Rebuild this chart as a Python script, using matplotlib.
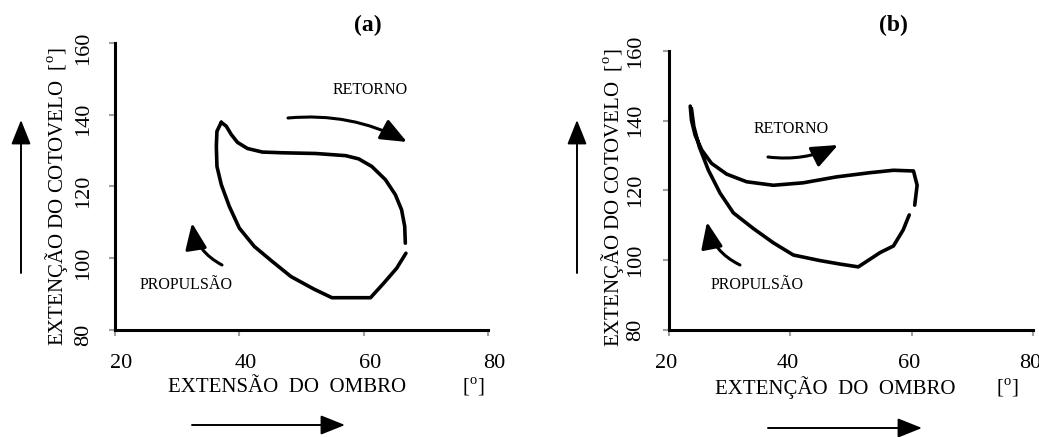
import numpy as np
import matplotlib
matplotlib.use('Agg')
import matplotlib.pyplot as plt
from matplotlib.transforms import ScaledTranslation

plt.rcParams['font.family'] = ['Liberation Serif', 'DejaVu Serif']
plt.rcParams['mathtext.fontset'] = 'custom'
plt.rcParams['mathtext.rm'] = 'Liberation Serif'

nan = np.nan

# (a) ciclo ombro x cotovelo - extensão do ombro [º] e extenção do cotovelo [º]
ombro_a = [37.1, 37.9, 38.7, 39.7, 41.3, 43.7, 46.9, 52.3, 57.1, 59.2, 61.3, 63.5,
           65.1, 66.1, 66.6, 66.7, nan, 66.8, 65.3, 63.2, 61.1, 54.9, 52.0, 48.3,
           45.3, 42.4, 40.0, 38.4, 37.1, 36.4, 36.3, 36.4, 37.1]
cotovelo_a = [137.9, 136.8, 134.5, 132.3, 130.6, 129.6, 129.4, 129.2, 128.6, 127.7,
              125.6, 121.9, 117.7, 113.5, 108.9, 104.2, nan, 101.4, 97.2, 93.0, 89.0,
              89.0, 91.4, 94.9, 99.1, 103.3, 108.4, 114.4, 120.5, 125.6, 131.2, 135.4,
              137.9]

# (b)
ombro_b = [23.5, 23.7, 24.3, 25.4, 27.0, 29.5, 32.8, 37.2, 42.1, 47.6, 53.1, 57.0,
           60.3, 60.9, 60.5, nan, 59.6, 58.6, 57.0, 54.8, 51.2, 48.2, 44.9, 40.5,
           37.2, 33.9, 30.6, 28.4, 26.5, 25.0, 24.1, 23.7]
cotovelo_b = [144.2, 140.2, 135.9, 131.6, 127.8, 124.7, 122.5, 121.5, 122.2, 123.9,
              125.1, 125.8, 125.6, 121.5, 115.8, nan, 113.0, 108.7, 104.1, 102.2, 98.1,
              98.9, 99.9, 101.5, 105.0, 109.1, 113.6, 119.3, 125.8, 132.5, 138.3, 143.5]

x_ticks = [20, 40, 60, 80]
y_ticks = [80, 100, 120, 140, 160]
grau = r'[$^{\mathrm{o}}$]'

W, H = 1039, 437
fig = plt.figure(figsize=(W / 100, H / 100), dpi=100)


def fpos(x, y):
    # pixel da imagem -> fração da figura
    return (x / W, 1 - y / H)


def style_axes(ax, xpad, ypad, dx, dy):
    ax.set_xlim(20, 80)
    ax.set_ylim(80, 160)
    ax.set_xticks(x_ticks)
    ax.set_yticks(y_ticks)
    ax.patch.set_alpha(0)
    for s in ['top', 'right']:
        ax.spines[s].set_visible(False)
    for s in ['left', 'bottom']:
        ax.spines[s].set_linewidth(2.2)
    ax.tick_params(axis='both', direction='out', length=4, width=1.5,
                   color='#a0a0a0', labelsize=16)
    ax.tick_params(axis='x', pad=xpad)
    ax.tick_params(axis='y', pad=ypad, labelrotation=90)
    offx = ScaledTranslation(dx / 100, 0, fig.dpi_scale_trans)
    offy = ScaledTranslation(0, -dy / 100, fig.dpi_scale_trans)
    for lab in ax.get_xticklabels():
        lab.set_transform(lab.get_transform() + offx)
    for lab in ax.get_yticklabels():
        lab.set_va('center')
        lab.set_transform(lab.get_transform() + offy)


def arrow(p0, p1, rad=0.0, lw=1.4, hl=0.75, hw=0.3):
    fig.add_artist(matplotlib.patches.FancyArrowPatch(
        fpos(*p0), fpos(*p1), transform=fig.transFigure,
        arrowstyle='-|>,head_length=%s,head_width=%s' % (hl, hw),
        connectionstyle='arc3,rad=%s' % rad, mutation_scale=20,
        lw=lw, color='black', shrinkA=0, shrinkB=0))


ax_a = fig.add_axes([115 / W, 1 - 330 / H, 373 / W, 287 / H])
ax_b = fig.add_axes([669 / W, 1 - 330 / H, 364 / W, 279 / H])
style_axes(ax_a, 13.5, 11.5, 6, 5)
style_axes(ax_b, 13.5, 13, -3, 0)

ax_a.plot(ombro_a, cotovelo_a, color='black', lw=2.6,
          solid_joinstyle='round', solid_capstyle='round')
ax_b.plot(ombro_b, cotovelo_b, color='black', lw=2.6,
          solid_joinstyle='round', solid_capstyle='round')

# textos (a)
fig.text(*fpos(368, 25), '(a)', ha='center', va='center', fontsize=17, fontweight='bold')
fig.text(*fpos(287, 387), 'EXTENSÃO  DO  OMBRO', ha='center', va='center', fontsize=15)
fig.text(*fpos(473, 387), grau, ha='center', va='center', fontsize=15)
fig.text(*fpos(57, 197), 'EXTENÇÃO DO COTOVELO  ' + grau, ha='center', va='center',
         fontsize=15, rotation=90)
fig.text(*fpos(370, 90), 'RETORNO', ha='center', va='center', fontsize=11.5)
fig.text(*fpos(186, 285), 'PROPULSÃO', ha='center', va='center', fontsize=11.5)

# textos (b)
fig.text(*fpos(893, 25), '(b)', ha='center', va='center', fontsize=17, fontweight='bold')
fig.text(*fpos(835, 388), 'EXTENÇÃO  DO  OMBRO', ha='center', va='center', fontsize=15)
fig.text(*fpos(1007, 388), grau, ha='center', va='center', fontsize=15)
fig.text(*fpos(612, 198), 'EXTENÇÃO DO COTOVELO  ' + grau, ha='center', va='center',
         fontsize=15, rotation=90)
fig.text(*fpos(791, 129), 'RETORNO', ha='center', va='center', fontsize=11.5)
fig.text(*fpos(757, 285), 'PROPULSÃO', ha='center', va='center', fontsize=11.5)

# setas
arrow((192, 425), (345, 425))
arrow((21, 273), (21, 120))
arrow((768, 428), (922, 428))
arrow((577, 273), (577, 120))
arrow((288, 118), (407, 142), rad=-0.15, lw=2.2, hl=0.8, hw=0.33)
arrow((222, 265), (192, 223), rad=-0.25, lw=2.2, hl=0.8, hw=0.33)
arrow((768, 157), (838, 145), rad=0.15, lw=2.2, hl=0.8, hw=0.33)
arrow((740, 265), (707, 222), rad=-0.25, lw=2.2, hl=0.8, hw=0.33)

fig.savefig('out.png', dpi=100)
